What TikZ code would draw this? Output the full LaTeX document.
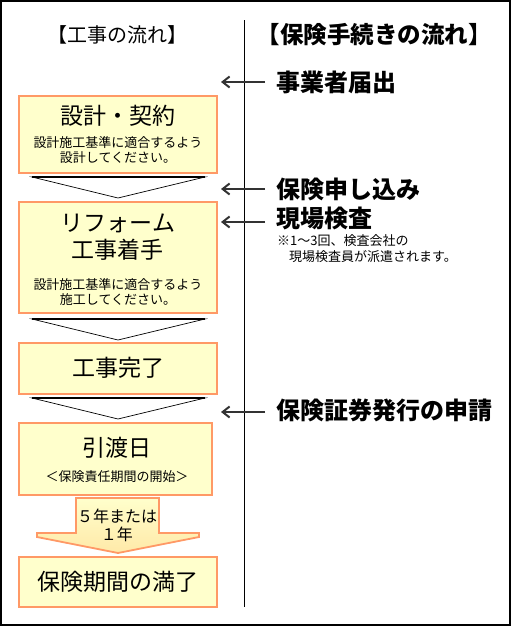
\documentclass[tikz,border=0pt]{standalone}
\usepackage{fontspec}
\setmainfont{Noto Sans CJK JP}
\definecolor{boxline}{HTML}{FF9966}
\definecolor{boxfill}{HTML}{FFFFCC}
\definecolor{arrowdeep}{HTML}{FFE9A8}
\definecolor{pointgrey}{HTML}{333333}
\newcommand{\flowtitle}{\fontsize{23pt}{27pt}\selectfont}
\newcommand{\flowsmall}{\fontsize{13pt}{15pt}\selectfont}
\newcommand{\procfont}{\fontsize{24pt}{28pt}\selectfont\bfseries}
\usetikzlibrary{arrows.meta, positioning, calc}

\begin{document}
\begin{tikzpicture}[x=1pt, y=-1pt,
  >={Straight Barb[length=7pt, width=11pt]},
  flowbox/.style={draw=boxline, fill=boxfill, line width=1.8pt,
                  minimum width=198pt, inner sep=0pt},
  pointer/.style={->, line width=2pt, pointgrey},
  proc/.style={anchor=west, inner sep=0pt, font=\procfont},
  chevron/.style={draw, fill=white, line width=0.7pt}]
  \useasboundingbox (0,0) rectangle (512,627);
  \draw[line width=1.6pt] (1,1) rectangle (510,625);
  \draw[line width=1pt] (244,20) -- (244,607);

  % titles
  \node[font=\fontsize{20pt}{24pt}\selectfont] (koji-flow) at (117,35) {【工事の流れ】};
  \node[font=\fontsize{23.5pt}{27pt}\selectfont\bfseries] (hoken-flow) at (374,35)
    {【保険手続きの流れ】};

  % construction side
  \node[flowbox, minimum height=77pt] (keiyaku) at (118,134.5) {};
  \node[font=\flowtitle] (keiyaku-t) at (118,116) {設計・契約};
  \node[font=\flowsmall, align=center] (keiyaku-s) at (118,150.5)
    {設計施工基準に適合するよう\\設計してください。};

  \node[flowbox, minimum height=111pt] (chakushu) at (118,257.5) {};
  \node[font=\flowtitle, align=center] (chakushu-t) at (118,237)
    {リフォーム\\工事着手};
  \node[font=\flowsmall, align=center] (chakushu-s) at (118,292)
    {設計施工基準に適合するよう\\施工してください。};

  \node[flowbox, minimum height=51pt] (kanryo) at (118,368.5) {};
  \node[font=\flowtitle] (kanryo-t) at (118,368) {工事完了};

  \node[flowbox, minimum width=193pt, minimum height=72pt] (hikiwatashi)
    at (115.5,459) {};
  \node[font=\flowtitle] (hikiwatashi-t) at (117,448) {引渡日};
  \node[font=\flowsmall] (hikiwatashi-s) at (117,477) {＜保険責任期間の開始＞};

  \node[flowbox, minimum height=50pt] (manryo) at (118,582) {};
  \node[font=\flowtitle] (manryo-t) at (118,582) {保険期間の満了};

  \foreach \y in {177,319,398} {
    \draw[chevron] (32,\y) -- (118,\y+21) -- (205,\y) -- cycle;
    \draw[line width=1.4pt] (32,\y) -- (205,\y);
  }

  \draw[draw=boxline, line width=1.8pt, top color=boxfill, bottom color=arrowdeep]
    (76,498) -- (159,498) -- (159,533) -- (199,533) -- (199,537) -- (118,553)
    -- (37,537) -- (37,533) -- (76,533) -- cycle;
  \node[font=\fontsize{16pt}{18pt}\selectfont, align=center] (kikan) at (117,525.5)
    {５年または\\１年};

  % insurance side
  \node[proc] (todoke) at (276,82) {事業者届出};
  \node[proc] (moushikomi) at (276,189) {保険申し込み};
  \node[proc] (kensa) at (276,218) {現場検査};
  \node[proc] (shoken) at (276,410) {保険証券発行の申請};
  \node[anchor=north west, inner sep=0pt, align=left,
        font=\fontsize{13pt}{16pt}\selectfont] (haken) at (277,234)
    {※1〜3回、検査会社の\\\hspace{12pt}現場検査員が派遣されます。};

  \coordinate (todoke-tip) at (221,82);
  \coordinate (moushikomi-tip) at (221,189);
  \coordinate (kensa-tip) at (221,222);
  \coordinate (shoken-tip) at (221,412);
  \foreach \n in {todoke, moushikomi, kensa, shoken}
    \draw[pointer] ($(\n-tip -| \n.west)+(-11,0)$) -- (\n-tip);
\end{tikzpicture}
\end{document}
